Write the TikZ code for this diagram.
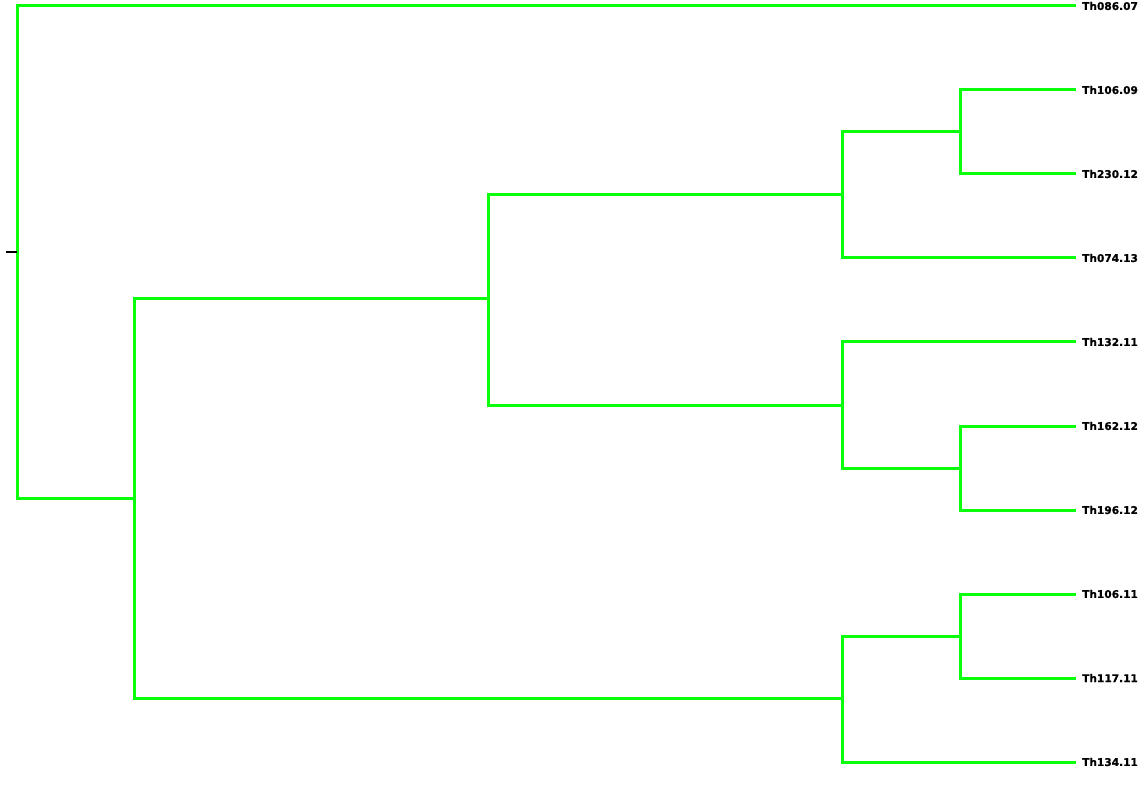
\documentclass[tikz,border=0pt]{standalone}
\usepackage{fontspec}
\newfontfamily\lblfont[FakeBold=0.8]{DejaVu Sans Bold}
\definecolor{branch}{RGB}{10,255,10}
\begin{document}
\begin{tikzpicture}[x=1pt,y=-1pt,
  edge/.style={draw=branch,line width=3pt},
  lbl/.style={anchor=west,inner sep=0pt,font=\lblfont\fontsize{10.6}{12}\selectfont},
  tick/.style={draw=black,line width=2.6pt}]
\useasboundingbox (0,0) rectangle (1146,786);
% leaves
\coordinate (l1) at (1076,6);
\coordinate (l2) at (1076,90);
\coordinate (l3) at (1076,174);
\coordinate (l4) at (1076,258);
\coordinate (l5) at (1076,342);
\coordinate (l6) at (1076,426);
\coordinate (l7) at (1076,510);
\coordinate (l8) at (1076,594);
\coordinate (l9) at (1076,678);
\coordinate (l10) at (1076,762);
\node[lbl] (t1) at (1082,6) {Th086.07};
\node[lbl] (t2) at (1082,90) {Th106.09};
\node[lbl] (t3) at (1082,174) {Th230.12};
\node[lbl] (t4) at (1082,258) {Th074.13};
\node[lbl] (t5) at (1082,342) {Th132.11};
\node[lbl] (t6) at (1082,426) {Th162.12};
\node[lbl] (t7) at (1082,510) {Th196.12};
\node[lbl] (t8) at (1082,594) {Th106.11};
\node[lbl] (t9) at (1082,678) {Th117.11};
\node[lbl] (t10) at (1082,762) {Th134.11};
% internal nodes
\coordinate (root) at (17,252);
\coordinate (A) at (134,498);
\coordinate (B) at (488,299);
\coordinate (C) at (842,195);
\coordinate (D) at (960,132);
\coordinate (E) at (842,405);
\coordinate (F) at (960,468);
\coordinate (G) at (842,698);
\coordinate (H) at (960,636);
\coordinate (tk) at (6,252);
% edges
\draw[edge] (l1) -| (root |- l1) -- (root |- A) -- (A);
\draw[edge] (B) -| (A |- B) -- (A |- G) -- (G);
\draw[edge] (C) -| (B |- C) -- (B |- E) -- (E);
\draw[edge] (D) -| (C |- D) -- (C |- l4) -- (l4);
\draw[edge] (l2) -| (D |- l2) -- (D |- l3) -- (l3);
\draw[edge] (l5) -| (E |- l5) -- (E |- F) -- (F);
\draw[edge] (l6) -| (F |- l6) -- (F |- l7) -- (l7);
\draw[edge] (H) -| (G |- H) -- (G |- l10) -- (l10);
\draw[edge] (l8) -| (H |- l8) -- (H |- l9) -- (l9);
\draw[tick] (tk) -- (root);
\end{tikzpicture}
\end{document}
